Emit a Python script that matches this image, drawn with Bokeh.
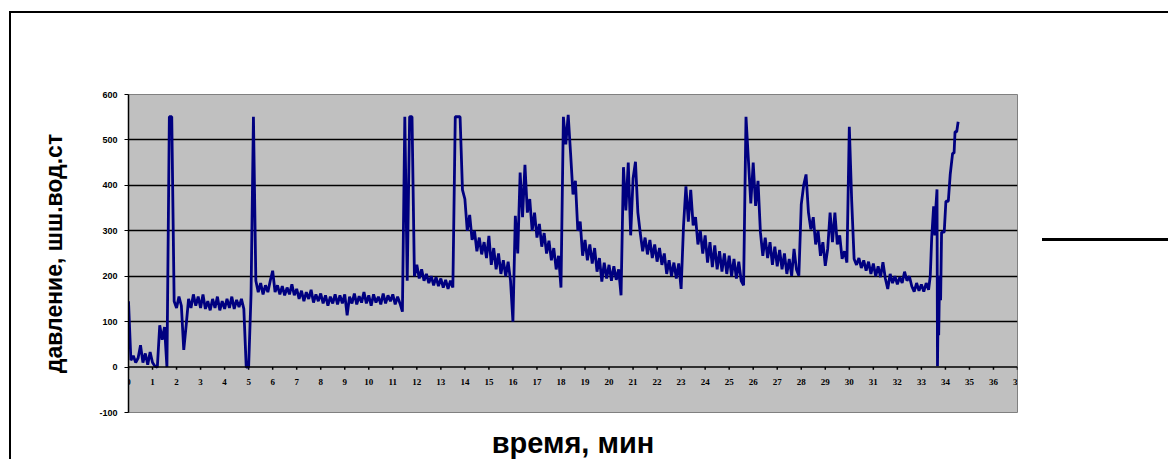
from bokeh.plotting import figure
from bokeh.models import Range1d, FixedTicker, Span, ColumnDataSource, LabelSet
from bokeh.embed import file_html
from bokeh.resources import INLINE

# pressure readings, mm water column, sampled every 0.1 min (one row per minute)
pressure_by_minute = [
    [145, 15, 25, 10, 20, 48, 10, 30, 5, 33],        # 0
    [10, 2, 0, 92, 60, 88, 0, 551, 551, 145],        # 1
    [130, 155, 135, 38, 92, 150, 130, 160, 135, 155],  # 2
    [130, 160, 128, 145, 125, 150, 130, 155, 125, 145],  # 3
    [128, 150, 130, 155, 128, 148, 132, 150, 128, 0],  # 4
    [0, 160, 551, 190, 165, 185, 160, 180, 165, 190],  # 5
    [212, 165, 180, 160, 178, 158, 175, 160, 182, 158],  # 6
    [172, 150, 168, 145, 165, 150, 170, 142, 160, 145],  # 7
    [162, 140, 158, 135, 155, 140, 160, 138, 158, 140],  # 8
    [160, 114, 155, 140, 162, 138, 156, 142, 165, 140],  # 9
    [158, 135, 160, 142, 155, 138, 162, 140, 158, 145],  # 10
    [160, 138, 155, 140, 122, 551, 190, 551, 551, 200],  # 11
    [225, 195, 215, 190, 205, 185, 200, 180, 198, 178],  # 12
    [195, 175, 192, 172, 190, 175, 551, 551, 551, 390],  # 13
    [370, 300, 335, 280, 300, 255, 285, 248, 275, 240],  # 14
    [289, 225, 262, 215, 250, 205, 235, 200, 232, 190],  # 15
    [100, 333, 250, 428, 330, 445, 340, 370, 300, 340],  # 16
    [285, 315, 265, 295, 250, 278, 235, 262, 215, 245],  # 17
    [175, 551, 490, 555, 470, 380, 410, 300, 320, 245],  # 18
    [280, 235, 270, 228, 262, 210, 240, 188, 230, 195],  # 19
    [225, 190, 222, 192, 215, 158, 440, 345, 450, 290],  # 20
    [415, 452, 340, 295, 255, 285, 248, 280, 240, 270],  # 21
    [232, 262, 225, 250, 205, 235, 200, 230, 195, 228],  # 22
    [172, 311, 398, 320, 390, 312, 330, 270, 300, 250],  # 23
    [290, 230, 275, 220, 268, 215, 255, 210, 250, 205],  # 24
    [245, 200, 238, 195, 232, 190, 180, 551, 456, 360],  # 25
    [450, 355, 410, 297, 245, 285, 240, 275, 225, 265],  # 26
    [222, 258, 215, 250, 205, 238, 201, 260, 215, 201],  # 27
    [358, 400, 424, 340, 303, 330, 270, 300, 245, 275],  # 28
    [223, 260, 340, 275, 340, 270, 290, 238, 255, 230],  # 29
    [529, 365, 238, 225, 240, 218, 235, 212, 232, 205],  # 30
    [228, 200, 222, 198, 231, 195, 172, 205, 185, 200],  # 31
    [182, 198, 185, 210, 190, 200, 178, 166, 185, 168],  # 32
    [182, 166, 185, 170],                              # 33
]
sample_step_min = 0.1

# final rise, read point by point
tail_time = [33.37, 33.43, 33.51, 33.56, 33.6, 33.65, 33.67, 33.7, 33.72, 33.74,
             33.77, 33.8, 33.84, 33.95, 34.02, 34.12, 34.2, 34.3, 34.36, 34.4, 34.47, 34.53]
tail_pressure = [201, 286, 354, 290, 350, 391, 2, 145, 70, 140,
                 201, 147, 297, 297, 365, 365, 424, 471, 471, 518, 518, 540]

x_ticks = list(range(0, 38))
x_tick_labels = [str(t) for t in x_ticks]
y_ticks = [-100, 0, 100, 200, 300, 400, 500, 600]
y_tick_labels = ["-100", "0", "100", "200", "300", "400", "500", "600"]
grid_levels = [100, 200, 300, 400, 500]

time_min = []
pressure = []
for m, row in enumerate(pressure_by_minute):
    for k, v in enumerate(row):
        time_min.append(round(m + k * sample_step_min, 2))
        pressure.append(v)
time_min += tail_time
pressure += tail_pressure

FONT = "Liberation Sans"

p = figure(width=1159, height=448, output_backend="svg", toolbar_location=None,
           x_range=Range1d(0, 37), y_range=Range1d(-100, 600),
           min_border_left=117, min_border_right=153, min_border_top=81, min_border_bottom=47,
           background_fill_color="#c0c0c0", border_fill_color=None,
           outline_line_color="#808080", outline_line_width=1)
# outer chart frame (its right and bottom edges lie outside the picture)
# and the legend stroke to the right of the plot area (its label is cut off)
p.styles = {"margin-left": "9px", "margin-top": "11px",
            "border-left": "2px solid black", "border-top": "2px solid black",
            "background-color": "white",
            "background-image": "linear-gradient(black, black)",
            "background-repeat": "no-repeat",
            "background-size": "140px 3px",
            "background-position": "1031px 225px"}

# y axis
p.yaxis.ticker = FixedTicker(ticks=y_ticks)
p.yaxis.major_label_overrides = {t: l for t, l in zip(y_ticks, y_tick_labels)}
p.yaxis.axis_line_color = "black"
p.yaxis.axis_line_width = 1.5
p.yaxis.major_tick_line_color = "black"
p.yaxis.major_tick_out = 4
p.yaxis.major_tick_in = 0
p.yaxis.minor_tick_line_color = None
p.yaxis.major_label_text_font = FONT
p.yaxis.major_label_text_font_size = "9px"
p.yaxis.major_label_text_font_style = "bold"
p.yaxis.major_label_text_color = "black"
p.yaxis.major_label_standoff = 7
p.yaxis.axis_label = "давление, шш.вод.ст"
p.yaxis.axis_label_text_font = FONT
p.yaxis.axis_label_text_font_size = "23px"
p.yaxis.axis_label_text_font_style = "bold"
p.yaxis.axis_label_text_color = "black"
p.yaxis.axis_label_standoff = 29

# x axis: only its title below; the axis itself crosses at zero
p.xaxis.ticker = FixedTicker(ticks=[])
p.xaxis.axis_line_color = None
p.xaxis.major_tick_line_color = None
p.xaxis.minor_tick_line_color = None
p.xaxis.axis_label = "время, мин"
p.xaxis.axis_label_text_font = FONT
p.xaxis.axis_label_text_font_size = "29px"
p.xaxis.axis_label_text_font_style = "bold"
p.xaxis.axis_label_text_color = "black"
p.xaxis.axis_label_standoff = 14

p.xgrid.visible = False
p.ygrid.ticker = FixedTicker(ticks=grid_levels)
p.ygrid.grid_line_color = "black"
p.ygrid.grid_line_width = 1.5

p.add_layout(Span(location=0, dimension="width", line_color="black", line_width=1.5))

tick_src = ColumnDataSource(dict(x=x_ticks, y=[0] * len(x_ticks), label=x_tick_labels))
p.segment(x0="x", y0="y", x1="x", y1=-6, source=tick_src, line_color="black", line_width=1.5)
p.add_layout(LabelSet(x="x", y="y", text="label", source=tick_src, y_offset=-18,
                      text_align="center", text_baseline="alphabetic",
                      text_font=FONT, text_font_size="9px", text_font_style="bold",
                      text_color="black"))

p.line(time_min, pressure, line_color="#000080", line_width=2.8)

open("out.html", "w").write(file_html(p, INLINE))
